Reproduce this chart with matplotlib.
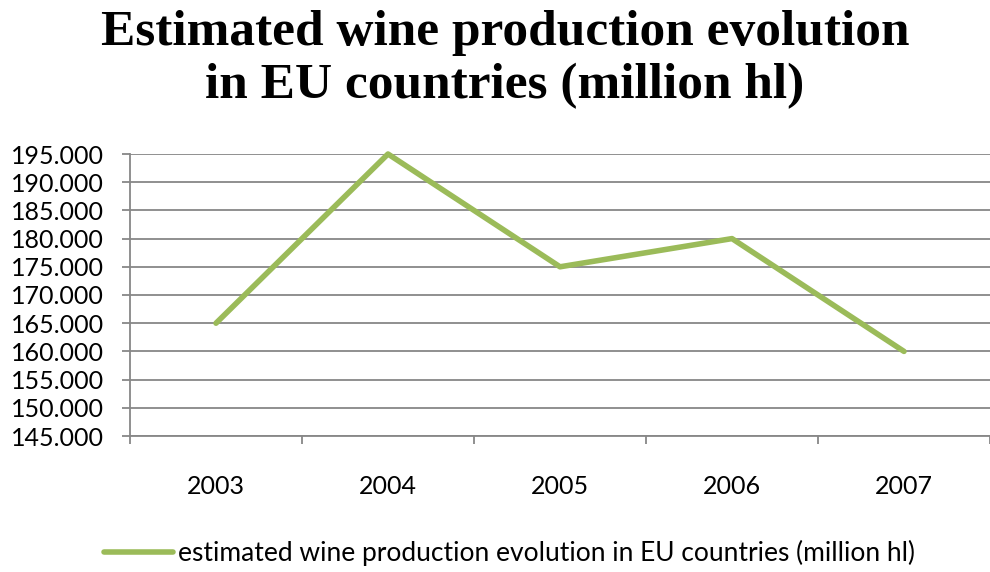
import matplotlib.pyplot as plt
import numpy as np

years = ['2003', '2004', '2005', '2006', '2007']
production = [165, 195, 175, 180, 160]
y_ticks = list(range(145, 196, 5))
series_name = 'estimated wine production evolution in EU countries (million hl)'

green = '#9bbb59'
grid = '#878787'

fig = plt.figure(figsize=(9.9, 5.72), dpi=100)
ax = fig.add_axes([130 / 990, 1 - 436 / 572, 860 / 990, 282 / 572])

x = np.arange(len(years))
ax.plot(x, production, color=green, lw=4, solid_capstyle='round', solid_joinstyle='round',
        label=series_name, clip_on=False)

ax.set_xlim(-0.5, len(years) - 0.5)
ax.set_ylim(145, 195)
ax.set_yticks(y_ticks)
ax.set_yticklabels([f'{v}.000' for v in y_ticks], fontsize=18, family='Lato')
ax.yaxis.grid(True, color=grid, lw=1.3)
ax.set_axisbelow(True)

# category labels centred, tick marks on the boundaries
ax.set_xticks(np.arange(-0.5, len(years)), minor=False)
ax.set_xticklabels([])
ax.set_xticks(x, minor=True)
ax.set_xticklabels(years, minor=True, fontsize=18, family='Lato')
ax.tick_params(axis='x', which='major', length=6, color=grid, width=1.3, direction='out')
ax.tick_params(axis='x', which='minor', length=0, pad=28)
ax.tick_params(axis='y', length=6, color=grid, width=1.3, pad=13)

for side in ['top', 'right']:
    ax.spines[side].set_visible(False)
ax.spines['left'].set_color(grid)
ax.spines['left'].set_linewidth(1.3)
ax.spines['bottom'].set_color(grid)
ax.spines['bottom'].set_linewidth(1.3)

fig.text(0.51, 0.982, 'Estimated wine production evolution\nin EU countries (million hl)',
         ha='center', va='top', fontsize=37, fontweight='bold', family='Liberation Serif',
         linespacing=1.2)

fig.legend(loc='center', bbox_to_anchor=(0.515, 1 - 553 / 572), frameon=False,
           prop={'family': 'Lato', 'size': 19}, handlelength=2.6, handletextpad=0.2)

fig.savefig('out.png', dpi=100)
